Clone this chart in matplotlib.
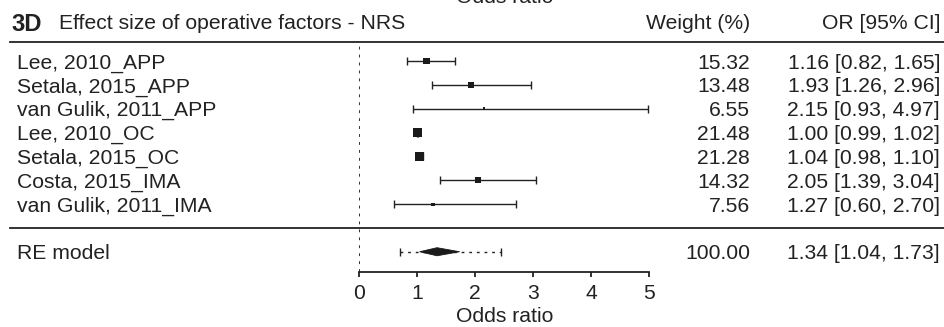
import numpy as np
import matplotlib
matplotlib.use("Agg")
import matplotlib.pyplot as plt
import matplotlib.transforms as mtransforms

plt.rcParams['font.family'] = ['Liberation Sans', 'DejaVu Sans']

# data
studies = ["Lee, 2010_APP", "Setala, 2015_APP", "van Gulik, 2011_APP", "Lee, 2010_OC",
           "Setala, 2015_OC", "Costa, 2015_IMA", "van Gulik, 2011_IMA"]
weights = [15.32, 13.48, 6.55, 21.48, 21.28, 14.32, 7.56]
odds = [1.16, 1.93, 2.15, 1.00, 1.04, 2.05, 1.27]
ci_lo = [0.82, 1.26, 0.93, 0.99, 0.98, 1.39, 0.60]
ci_hi = [1.65, 2.96, 4.97, 1.02, 1.10, 3.04, 2.70]

re_label = "RE model"
re_weight = 100.00
re_or, re_lo, re_hi = 1.34, 1.04, 1.73
pi_lo, pi_hi = 0.70, 2.45   # prediction interval (dotted)

xticks = [0, 1, 2, 3, 4, 5]

W, H = 944, 327
col = '#222222'
fs = 15.2

fig = plt.figure(figsize=(W / 100, H / 100), dpi=100)
# x: 0..5 between px 359.3 and 649.3 ; y rows, axis line at px 272, top rule at px 42
ax = fig.add_axes([359.3 / W, (H - 272) / H, 290 / W, (272 - 42) / H])
rows = np.arange(len(studies))
re_row = len(studies) + 1
ax.set_xlim(0, 5)
ax.set_ylim(8.85, -0.8)

for s in ['left', 'right', 'top']:
    ax.spines[s].set_visible(False)
ax.spines['bottom'].set_bounds(0, 5)
ax.spines['bottom'].set_linewidth(1.3)
ax.spines['bottom'].set_color(col)
ax.set_yticks([])
ax.set_xticks(xticks)
ax.tick_params(axis='x', length=3.6, width=1.3, color=col, labelsize=fs, labelcolor=col, pad=5)
ax.set_xlabel("Odds ratio", fontsize=fs, color=col, labelpad=3)

# reference line at 0
ax.axvline(0, color=col, lw=1.3, ls=(0, (1.6, 2.8)))

# study estimates
odds_a = np.array(odds)
ax.errorbar(odds_a, rows, xerr=[odds_a - np.array(ci_lo), np.array(ci_hi) - odds_a],
            fmt='none', ecolor=col, elinewidth=1.0, capsize=2.9, capthick=1.0)
sizes = (0.41 * 0.72 * np.array(weights)) ** 2
ax.scatter(odds_a, rows, marker='s', s=sizes, color='#1a1a1a', zorder=3, linewidths=0)

# RE model: prediction interval + diamond
ax.hlines(re_row, pi_lo, pi_hi, colors=col, lw=1.0, linestyles=(0, (2, 3.5)))
ax.vlines([pi_lo, pi_hi], re_row - 0.17, re_row + 0.17, colors=col, lw=1.0)
dh = 0.17
ax.fill([re_lo, re_or, re_hi, re_or], [re_row, re_row - dh, re_row, re_row + dh],
        color='#1a1a1a', zorder=3, lw=0.6)

# table text
blend = mtransforms.blended_transform_factory(fig.transFigure, ax.transData)
x_lab, x_w, x_or = 17 / W, 750 / W, 940 / W
for i, name in enumerate(studies):
    ax.text(x_lab, rows[i], name, transform=blend, ha='left', va='center_baseline',
            fontsize=fs, color=col, clip_on=False)
    ax.text(x_w, rows[i], f"{weights[i]:.2f}", transform=blend, ha='right',
            va='center_baseline', fontsize=fs, color=col, clip_on=False)
    ax.text(x_or, rows[i], f"{odds[i]:.2f} [{ci_lo[i]:.2f}, {ci_hi[i]:.2f}]", transform=blend,
            ha='right', va='center_baseline', fontsize=fs, color=col, clip_on=False)

ax.text(x_lab, re_row, re_label, transform=blend, ha='left', va='center_baseline',
        fontsize=fs, color=col, clip_on=False)
ax.text(x_w, re_row, f"{re_weight:.2f}", transform=blend, ha='right', va='center_baseline',
        fontsize=fs, color=col, clip_on=False)
ax.text(x_or, re_row, f"{re_or:.2f} [{re_lo:.2f}, {re_hi:.2f}]", transform=blend,
        ha='right', va='center_baseline', fontsize=fs, color=col, clip_on=False)

# header
hy = -1.64
ax.text(11 / W, hy, "3D", transform=blend, ha='left', va='center_baseline', fontsize=fs + 2,
        fontweight='bold', color=col, clip_on=False)
ax.text(59 / W, hy, "Effect size of operative factors - NRS", transform=blend, ha='left',
        va='center_baseline', fontsize=fs, color=col, clip_on=False)
ax.text(x_w, hy, "Weight (%)", transform=blend, ha='right', va='center_baseline',
        fontsize=fs, color=col, clip_on=False)
ax.text(x_or, hy, "OR [95% CI]", transform=blend, ha='right', va='center_baseline',
        fontsize=fs, color=col, clip_on=False)
ax.text(2.5, -2.45, "Odds ratio", ha='center', va='baseline', fontsize=fs, color=col,
        clip_on=False)

# horizontal rules
ax.plot([10 / W, 1], [-0.8, -0.8], transform=blend, color=col, lw=1.3, clip_on=False)
ax.plot([10 / W, 1], [len(studies), len(studies)], transform=blend, color=col, lw=1.3,
        clip_on=False)

fig.savefig("out.png", dpi=100)
